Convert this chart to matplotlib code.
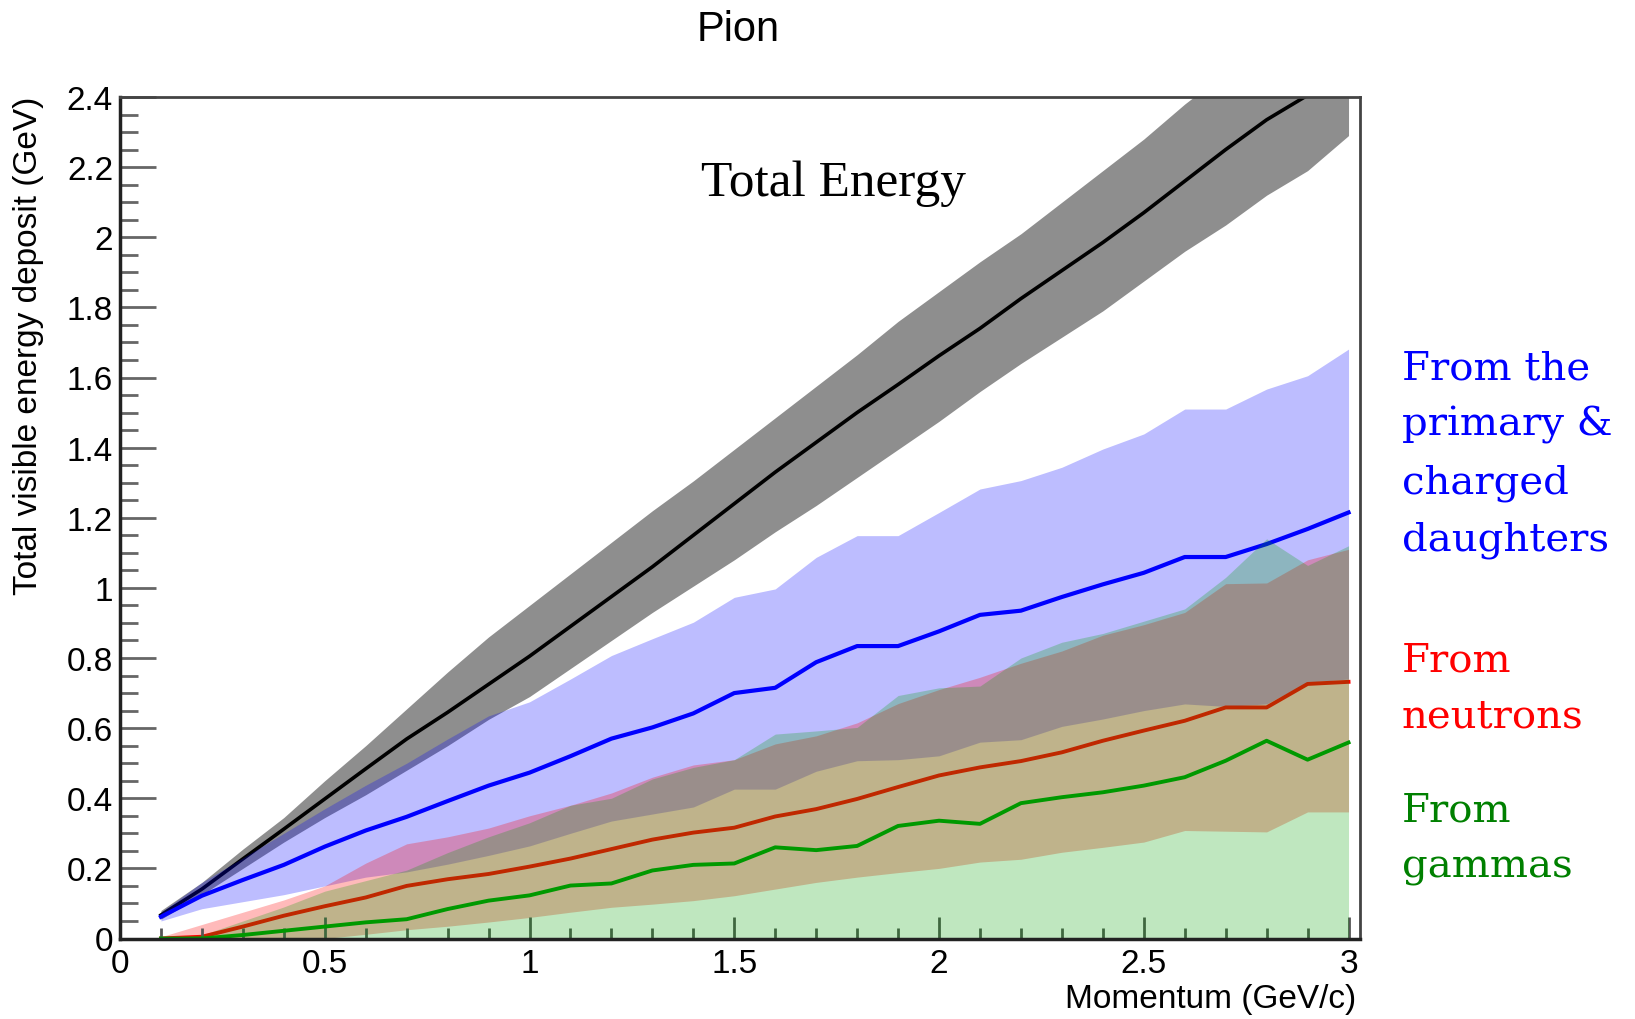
import matplotlib
matplotlib.use("Agg")
import matplotlib.pyplot as plt
from matplotlib.ticker import MultipleLocator, FuncFormatter

plt.rcParams["font.family"] = ["Liberation Sans", "DejaVu Sans"]

# momentum bins (GeV/c)
momentum = [0.1, 0.2, 0.3, 0.4, 0.5, 0.6, 0.7, 0.8, 0.9, 1.0,
            1.1, 1.2, 1.3, 1.4, 1.5, 1.6, 1.7, 1.8, 1.9, 2.0,
            2.1, 2.2, 2.3, 2.4, 2.5, 2.6, 2.7, 2.8, 2.9, 3.0]

# total visible energy (mean and band)
total_mean = [0.067, 0.141, 0.227, 0.312, 0.398, 0.484, 0.569, 0.645, 0.725, 0.805,
              0.89, 0.975, 1.06, 1.15, 1.24, 1.33, 1.415, 1.50, 1.58, 1.662,
              1.74, 1.825, 1.905, 1.985, 2.07, 2.16, 2.25, 2.335, 2.405, 2.475]
total_hi = [0.08, 0.16, 0.255, 0.345, 0.45, 0.55, 0.655, 0.76, 0.86, 0.95,
            1.04, 1.13, 1.22, 1.305, 1.395, 1.485, 1.575, 1.665, 1.76, 1.845,
            1.93, 2.01, 2.10, 2.19, 2.28, 2.38, 2.47, 2.55, 2.6, 2.67]
total_lo = [0.055, 0.125, 0.2, 0.275, 0.345, 0.41, 0.48, 0.55, 0.625, 0.69,
            0.77, 0.85, 0.93, 1.005, 1.08, 1.16, 1.235, 1.315, 1.395, 1.475,
            1.56, 1.64, 1.715, 1.79, 1.875, 1.96, 2.035, 2.12, 2.19, 2.29]

# primary & charged daughters
charged_mean = [0.062, 0.122, 0.167, 0.21, 0.262, 0.308, 0.347, 0.392, 0.436, 0.473,
                0.52, 0.57, 0.602, 0.642, 0.70, 0.715, 0.788, 0.834, 0.834, 0.876,
                0.923, 0.935, 0.974, 1.01, 1.043, 1.088, 1.088, 1.125, 1.168, 1.215]
charged_hi = [0.075, 0.16, 0.23, 0.30, 0.37, 0.437, 0.50, 0.569, 0.635, 0.675,
              0.74, 0.807, 0.855, 0.902, 0.973, 0.997, 1.087, 1.149, 1.149, 1.215,
              1.282, 1.306, 1.344, 1.396, 1.439, 1.51, 1.51, 1.567, 1.605, 1.681]
charged_lo = [0.05, 0.085, 0.105, 0.125, 0.15, 0.175, 0.19, 0.212, 0.237, 0.264,
              0.30, 0.335, 0.355, 0.375, 0.426, 0.426, 0.477, 0.507, 0.51, 0.521,
              0.56, 0.567, 0.605, 0.626, 0.65, 0.669, 0.662, 0.669, 0.731, 0.74]

# neutrons
neutron_mean = [0.0, 0.005, 0.034, 0.065, 0.092, 0.117, 0.15, 0.169, 0.184, 0.205,
                0.228, 0.255, 0.282, 0.302, 0.316, 0.348, 0.369, 0.398, 0.432, 0.465,
                0.488, 0.506, 0.531, 0.564, 0.593, 0.621, 0.659, 0.659, 0.726, 0.732]
neutron_hi = [0.005, 0.04, 0.075, 0.11, 0.15, 0.215, 0.27, 0.29, 0.315, 0.35,
              0.38, 0.415, 0.46, 0.495, 0.51, 0.555, 0.578, 0.615, 0.67, 0.71,
              0.745, 0.785, 0.82, 0.865, 0.895, 0.93, 1.012, 1.014, 1.08, 1.11]
neutron_lo = [0.0, 0.0, 0.0, 0.0, 0.0, 0.012, 0.025, 0.035, 0.047, 0.06,
              0.075, 0.089, 0.098, 0.108, 0.122, 0.141, 0.16, 0.175, 0.188, 0.2,
              0.218, 0.226, 0.246, 0.26, 0.275, 0.308, 0.306, 0.304, 0.361, 0.361]

# gammas
gamma_mean = [0.0, 0.0, 0.01, 0.022, 0.034, 0.046, 0.055, 0.084, 0.108, 0.123,
              0.151, 0.157, 0.194, 0.21, 0.214, 0.26, 0.252, 0.264, 0.321, 0.336,
              0.327, 0.386, 0.403, 0.417, 0.436, 0.46, 0.507, 0.564, 0.51, 0.559]
gamma_hi = [0.0, 0.01, 0.05, 0.09, 0.135, 0.165, 0.195, 0.245, 0.29, 0.33,
            0.38, 0.40, 0.455, 0.488, 0.51, 0.583, 0.592, 0.602, 0.693, 0.715,
            0.72, 0.80, 0.845, 0.87, 0.905, 0.94, 1.03, 1.14, 1.064, 1.12]
gamma_lo = [0.0, 0.0, 0.0, 0.0, 0.0, 0.0, 0.0, 0.0, 0.0, 0.0,
            0.0, 0.0, 0.0, 0.0, 0.0, 0.0, 0.0, 0.0, 0.0, 0.0,
            0.0, 0.0, 0.0, 0.0, 0.0, 0.0, 0.0, 0.0, 0.0, 0.0]

fig = plt.figure(figsize=(16.35, 10.2), dpi=100)
ax = fig.add_axes([120 / 1635, 1 - 939.5 / 1020, 1240 / 1635, 841.5 / 1020])

# draw order as in the original: band, then line, one component after another
ax.fill_between(momentum, total_lo, total_hi, color="#8e8e8e", lw=0, zorder=1.0)
ax.plot(momentum, total_mean, color="black", lw=2.6, zorder=1.1)
ax.fill_between(momentum, charged_lo, charged_hi, color="#0000ff", alpha=0.26, lw=0, zorder=1.2)
ax.plot(momentum, charged_mean, color="#0000ff", lw=3.0, zorder=1.3)
ax.fill_between(momentum, neutron_lo, neutron_hi, color="#ff0000", alpha=0.27, lw=0, zorder=1.4)
ax.plot(momentum, neutron_mean, color="#ff0000", lw=2.8, zorder=1.5)
ax.fill_between(momentum, gamma_lo, gamma_hi, color="#00a000", alpha=0.25, lw=0, zorder=1.6)
ax.plot(momentum, gamma_mean, color="#009900", lw=2.8, zorder=1.7)

ax.set_xlim(0, 3.028)
ax.set_ylim(0, 2.4)

fmt = FuncFormatter(lambda v, p: f"{v:g}")
ax.xaxis.set_major_locator(MultipleLocator(0.5))
ax.xaxis.set_minor_locator(MultipleLocator(0.1))
ax.yaxis.set_major_locator(MultipleLocator(0.2))
ax.yaxis.set_minor_locator(MultipleLocator(0.05))
ax.xaxis.set_major_formatter(fmt)
ax.yaxis.set_major_formatter(fmt)

ax.tick_params(which="both", direction="in", top=False, right=False, labelsize=24)
ax.tick_params(axis="y", which="major", length=26, width=2, color="#666666", pad=5)
ax.tick_params(axis="y", which="minor", length=13, width=2, color="#666666")
ax.tick_params(axis="x", which="major", length=16, width=2, color="#555555", pad=7)
ax.tick_params(axis="x", which="minor", length=8, width=2, color="#555555")

for side in ["left", "bottom"]:
    ax.spines[side].set_linewidth(2.5)
    ax.spines[side].set_color("#222222")
for side in ["top", "right"]:
    ax.spines[side].set_linewidth(2)
    ax.spines[side].set_color("#444444")

fig.text(29 / 1635, 1 - 97 / 1020, "Total visible energy deposit (GeV)",
         rotation=90, ha="center", va="top", fontsize=24)
fig.text(1356 / 1635, 1 - 1008 / 1020, "Momentum (GeV/c)",
         ha="right", va="baseline", fontsize=24)
fig.text(738 / 1635, 1 - 41 / 1020, "Pion", ha="center", va="baseline", fontsize=30)

ax.text(0.575, 0.898, "Total Energy", transform=ax.transAxes, ha="center", va="center",
        family="Liberation Serif", fontsize=37)

side_labels = [
    ("From the", "#0000ff", 379),
    ("primary &", "#0000ff", 436),
    ("charged", "#0000ff", 493),
    ("daughters", "#0000ff", 551),
    ("From", "#ff0000", 672),
    ("neutrons", "#ff0000", 728),
    ("From", "#008000", 822),
    ("gammas", "#008000", 878),
]
for txt, col, base in side_labels:
    fig.text(1402 / 1635, 1 - base / 1020, txt, color=col, ha="left", va="baseline",
             family="DejaVu Serif", fontsize=29)

fig.savefig("out.png", dpi=100)
